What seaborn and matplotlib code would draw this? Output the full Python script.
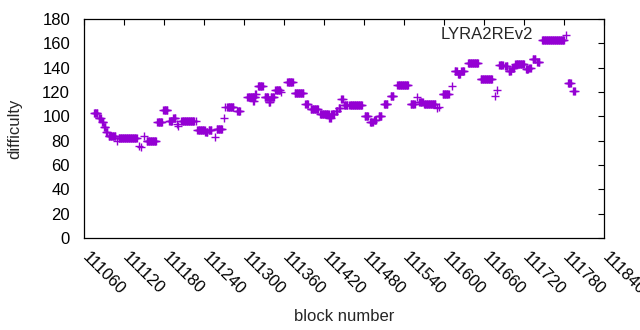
import numpy as np
import pandas as pd
import matplotlib
matplotlib.use("Agg")
import matplotlib.pyplot as plt
import matplotlib.transforms as mtransforms
import seaborn as sns

# Runs of constant difficulty: first block, number of blocks, difficulty
run_start = [111075, 111082, 111087, 111090, 111093, 111097, 111110, 111112, 111143, 111146,
             111150, 111154, 111170, 111179, 111188, 111194, 111199, 111201, 111206, 111228,
             111230, 111242, 111247, 111256, 111259, 111270, 111272, 111275, 111290, 111305,
             111314, 111317, 111321, 111331, 111337, 111340, 111347, 111356, 111365, 111376,
             111392, 111400, 111414, 111428, 111431, 111438, 111442, 111446, 111450, 111458,
             111481, 111489, 111495, 111502, 111510, 111520, 111530, 111550, 111560, 111563,
             111570, 111590, 111592, 111598, 111612, 111616, 111621, 111626, 111636, 111655,
             111676, 111679, 111683, 111692, 111697, 111702, 111707, 111723, 111728, 111733,
             111740, 111747, 111786, 111794]
run_len = [6, 4, 3, 3, 3, 11, 1, 28, 1, 1,
           1, 15, 8, 7, 5, 4, 1, 1, 20, 1,
           12, 4, 5, 1, 9, 1, 1, 10, 5, 13,
           2, 2, 8, 6, 3, 6, 8, 1, 9, 14,
           5, 12, 14, 3, 5, 3, 3, 3, 6, 20,
           6, 5, 4, 5, 6, 5, 17, 7, 1, 6,
           18, 1, 1, 10, 1, 4, 4, 5, 16, 18,
           1, 1, 6, 4, 4, 4, 14, 4, 3, 5,
           4, 34, 5, 3]
run_diff = [103, 99, 95, 91, 87, 84, 80, 82, 76, 75,
            84, 80, 95, 105, 96, 99, 94, 92, 96, 96,
            89, 87, 89, 83, 90, 99, 108, 108, 104, 116,
            113, 118, 125, 116, 112, 116, 122, 120, 128, 119,
            110, 106, 102, 99, 102, 104, 107, 114, 109, 109,
            100, 95, 97, 100, 110, 117, 126, 110, 116, 112,
            110, 107, 108, 118, 125, 137, 135, 137, 144, 131,
            117, 122, 142, 141, 137, 140, 143, 139, 140, 147,
            145, 163, 127, 121]

blocks = np.concatenate([np.arange(s, s + n) for s, n in zip(run_start, run_len)])
diffs = np.concatenate([np.full(n, d, dtype=float) for n, d in zip(run_len, run_diff)])
df = pd.DataFrame({"block": blocks, "difficulty": diffs})

x_ticks = list(range(111060, 111841, 60))
y_ticks = list(range(0, 181, 20))

sns.set_style("white")
plt.rcParams["font.family"] = ["Liberation Sans", "DejaVu Sans"]
plt.rcParams["font.size"] = 12

fig = plt.figure(figsize=(6.4, 3.3), dpi=100)
ax = fig.add_axes([84 / 640, (330 - 238) / 330, 520 / 640, 219 / 330])

sns.scatterplot(data=df, x="block", y="difficulty", marker="+", s=30,
                color="#9400d3", linewidth=1.0, ax=ax, label="LYRA2REv2")

ax.set_xlim(111060, 111840)
ax.set_ylim(0, 180)
ax.set_xticks(x_ticks)
ax.set_yticks(y_ticks)
ax.tick_params(direction="in", length=4.5, width=0.8, top=True, right=True,
               labelsize=12, colors="black")
ax.tick_params(axis="y", pad=10)
ax.tick_params(axis="x", pad=8)
ax.set_xticklabels([str(t) for t in x_ticks], rotation=-45, ha="left", va="top",
                   rotation_mode="anchor")
shift = mtransforms.ScaledTranslation(6 / 100, 0, fig.dpi_scale_trans)
for tick in ax.xaxis.get_major_ticks():
    tick.label1.set_transform(tick.label1.get_transform() + shift)
for sp in ax.spines.values():
    sp.set_color("black")
    sp.set_linewidth(0.9)
ax.set_xlabel("block number", fontsize=12)
ax.set_ylabel("difficulty", fontsize=12)
ax.xaxis.set_label_coords(0.5, -0.323)
ax.yaxis.set_label_coords(-0.119, 0.5)

leg = ax.legend(loc="upper right", frameon=False, markerfirst=False, fontsize=12,
                handlelength=2.0, handletextpad=1.0, borderaxespad=0.1,
                bbox_to_anchor=(0.975, 1.0))

fig.savefig("out.png", dpi=100)
